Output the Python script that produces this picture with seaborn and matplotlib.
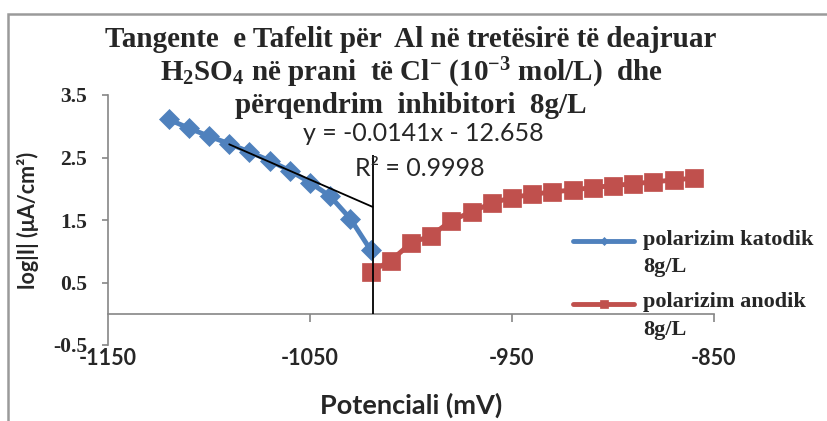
import numpy as np
import pandas as pd
import matplotlib
matplotlib.use("Agg")
import matplotlib.pyplot as plt
from matplotlib.patches import Rectangle
from matplotlib.legend_handler import HandlerLine2D
from matplotlib.lines import Line2D
import seaborn as sns

# Potential (mV) and log|I| for the cathodic and anodic branches
E_katodik = [-1120, -1110, -1100, -1090, -1080, -1070, -1060, -1050, -1040, -1030, -1020]
logI_katodik = [3.11, 2.97, 2.84, 2.72, 2.59, 2.45, 2.29, 2.10, 1.88, 1.52, 1.02]

E_anodik = [-1020, -1010, -1000, -990, -980, -970, -960, -950, -940, -930,
            -920, -910, -900, -890, -880, -870, -860]
logI_anodik = [0.67, 0.85, 1.13, 1.25, 1.49, 1.63, 1.77, 1.86, 1.91, 1.95,
               1.98, 2.02, 2.05, 2.08, 2.11, 2.14, 2.17]

# Tafel tangent: y = slope*x + intercept, drawn over the fitted range
tafel_slope = -0.0141
tafel_intercept = -12.658
tafel_r2 = 0.9998
tafel_range = [-1090, -1019]
E_corr = -1019
corr_line_top = 2.54

x_ticks = [-1150, -1050, -950, -850]
y_ticks = [-0.5, 0.5, 1.5, 2.5, 3.5]

label_kat = "polarizim katodik\n8g/L"
label_an = "polarizim anodik\n8g/L"

BLUE = "#4F81BD"
RED = "#C0504D"
AXIS_GRAY = "#868686"
SANS = ["Lato", "DejaVu Sans"]
SERIF = ["Liberation Serif", "DejaVu Serif"]

sns.set_theme(style="white")
plt.rcParams["font.family"] = ["Liberation Serif", "DejaVu Sans"]
plt.rcParams["mathtext.fontset"] = "custom"
plt.rcParams["mathtext.rm"] = "Liberation Serif:bold"
plt.rcParams["mathtext.bf"] = "Liberation Serif:bold"
plt.rcParams["mathtext.it"] = "Liberation Serif:bold"

W, H = 828, 421
fig = plt.figure(figsize=(W / 100, H / 100), dpi=100)
fig.patch.set_facecolor("white")

# plot area in pixel terms
left, right, top, bottom = 108, 714, 95, 345
ax = fig.add_axes([left / W, 1 - bottom / H, (right - left) / W, (bottom - top) / H])

df_kat = pd.DataFrame({"E": E_katodik, "logI": logI_katodik})
df_an = pd.DataFrame({"E": E_anodik, "logI": logI_anodik})

sns.lineplot(data=df_an, x="E", y="logI", ax=ax, color=RED, lw=3.5, marker="s",
             markersize=13.5, markeredgecolor=RED, markeredgewidth=0.5,
             label=label_an, sort=False, errorbar=None, zorder=3)
sns.lineplot(data=df_kat, x="E", y="logI", ax=ax, color=BLUE, lw=3.5, marker="D",
             markersize=10, markeredgecolor=BLUE, markeredgewidth=0.5,
             label=label_kat, sort=False, errorbar=None, zorder=4)

# Tafel tangent line from the fitted equation and the corrosion-potential marker
xt = np.array(tafel_range, dtype=float)
ax.plot(xt, tafel_slope * xt + tafel_intercept, color="black", lw=1.3, zorder=5)
ax.vlines(E_corr, 0, corr_line_top, color="black", lw=1.3, zorder=5)

ax.text(-994, 2.89, f"y = {tafel_slope}x - {abs(tafel_intercept)}",
        ha="center", va="center", fontsize=18, family=SANS, zorder=6)
ax.text(-995.5, 2.33, f"R² = {tafel_r2}",
        ha="center", va="center", fontsize=18, family=SANS, zorder=6)

ax.set_xlim(-1150, -850)
ax.set_ylim(-0.5, 3.5)

# y axis
ax.set_yticks(y_ticks)
ax.set_yticklabels([f"{v:g}" for v in y_ticks])
for sp in ["top", "right", "bottom"]:
    ax.spines[sp].set_visible(False)
ax.spines["left"].set_color(AXIS_GRAY)
ax.spines["left"].set_linewidth(1.2)
ax.tick_params(axis="y", direction="out", length=4, width=1.2, color=AXIS_GRAY,
               pad=11, labelsize=15.5, left=True)
for t in ax.get_yticklabels():
    t.set_fontweight("bold")
    t.set_family(SERIF)

# x axis: labels low, axis line and tick marks at log|I| = 0
ax.set_xticks(x_ticks)
ax.set_xticklabels([f"{v:g}" for v in x_ticks])
ax.tick_params(axis="x", length=0, pad=2, labelsize=15.5, bottom=True)
for t in ax.get_xticklabels():
    t.set_fontweight("bold")
    t.set_family(SANS)

zero_pos = (0 - (-0.5)) / 4.0
sec = ax.secondary_xaxis(zero_pos)
sec.set_xticks(x_ticks[1:])
sec.tick_params(axis="x", direction="out", length=6, width=1.2, color=AXIS_GRAY,
                labelbottom=False)
sec.spines["bottom"].set_color(AXIS_GRAY)
sec.spines["bottom"].set_linewidth(1.2)

ax.set_xlabel("Potenciali (mV)", fontsize=19.5, fontweight="bold", family=SANS)
ax.xaxis.set_label_coords(0.5, (bottom - 405) / (bottom - top))
ax.xaxis.label.set_va("center")
ax.set_ylabel("log|I| (μA/cm²)", fontsize=15.5, fontweight="bold", family=SANS)
ax.yaxis.set_label_coords((28 - left) / (right - left), 0.5)
ax.yaxis.label.set_va("center")


class FirstLineHandler(HandlerLine2D):
    """Line handle aligned with the first line of a two-line label."""

    def __init__(self, lift, **kw):
        super().__init__(**kw)
        self.lift = lift

    def create_artists(self, legend, orig_handle, xdescent, ydescent, width,
                       height, fontsize, trans):
        arts = super().create_artists(legend, orig_handle, xdescent, ydescent,
                                      width, height, fontsize, trans)
        for a in arts:
            a.set_ydata(np.asarray(a.get_ydata()) + self.lift * fontsize)
        return arts


handles, labels = ax.get_legend_handles_labels()
order = [labels.index(label_kat), labels.index(label_an)]
handles = [handles[i] for i in order]
labels = [labels[i] for i in order]
leg = ax.legend(handles, labels, loc="upper left",
                bbox_to_anchor=(573 / W, 1 - 230 / H), bbox_transform=fig.transFigure,
                frameon=False, borderpad=0, borderaxespad=0,
                handlelength=2.75, handletextpad=0.4, labelspacing=0.68,
                markerscale=0.4, prop={"family": SERIF, "weight": "bold", "size": 16},
                handler_map={Line2D: FirstLineHandler(lift=0.55)})
for t in leg.get_texts():
    t.set_linespacing(1.49)
leg.set_zorder(10)

# chart title
title = ("Tangente  e Tafelit për  Al në tretësirë të deajruar\n"
         "H$_{\\mathbf{2}}$SO$_{\\mathbf{4}}$ në prani  të Cl$^{\\mathbf{-}}$ "
         "(10$^{\\mathbf{-3}}$ mol/L)  dhe\n"
         "përqendrim  inhibitori  8g/L")
fig.text((left + right) / 2 / W, 1 - 26 / H, title, ha="center", va="top",
         fontsize=21, fontweight="bold", family=SERIF,
         linespacing=1.1, zorder=8)

# outer chart frame (continues past the right and bottom edges)
fig.patches.append(Rectangle((8 / W, -0.2), 1.2, 1.2 - 14 / H,
                             transform=fig.transFigure, fill=False,
                             edgecolor="#9a9a9a", lw=1.8, zorder=0))

fig.savefig("out.png", dpi=100, facecolor="white")
